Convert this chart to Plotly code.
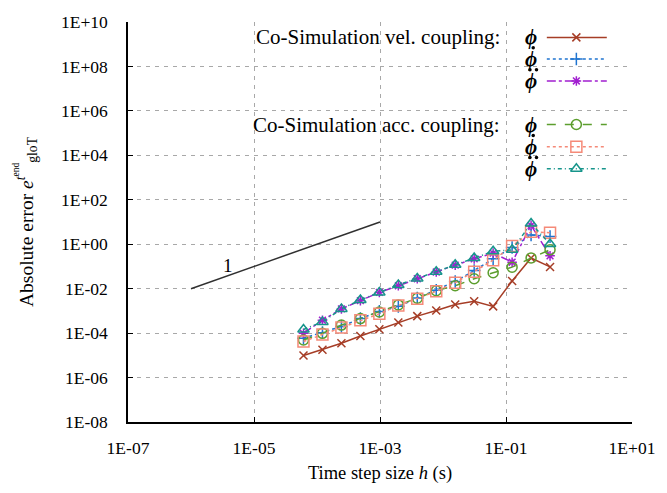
import plotly.graph_objects as go

# ---- data ----
h = [6.1035e-05, 1.2207e-04, 2.4414e-04, 4.8828e-04, 9.7656e-04, 1.9531e-03,
     3.9063e-03, 7.8125e-03, 1.5625e-02, 3.125e-02, 6.25e-02, 0.125, 0.25, 0.5]

vel_phi = [9.8e-6, 1.8e-5, 3.5e-5, 7.4e-5, 1.5e-4, 3.0e-4, 5.8e-4, 1.05e-3,
           1.95e-3, 2.7e-3, 1.6e-3, 2.2e-2, 0.24, 9.5e-2]
vel_dphi = [5.9e-5, 1.05e-4, 2.0e-4, 4.5e-4, 9.5e-4, 1.6e-3, 3.8e-3, 8.5e-3,
            2.1e-2, 6.6e-2, 0.22, 0.71, 2.6, 2.2]
vel_ddphi = [9.8e-5, 3.8e-4, 1.23e-3, 2.9e-3, 6.8e-3, 1.35e-2, 2.8e-2, 5.6e-2,
             0.115, 0.22, 0.40, 0.155, 7.1, 0.30]
acc_phi = [4.9e-5, 9.8e-5, 2.3e-4, 4.5e-4, 8.9e-4, 1.86e-3, 3.7e-3, 8.1e-3,
           1.35e-2, 2.8e-2, 5.2e-2, 9.3e-2, 0.24, 0.56]
acc_dphi = [4.2e-5, 8.7e-5, 1.8e-4, 3.8e-4, 7.4e-4, 1.74e-3, 3.5e-3, 7.6e-3,
            1.86e-2, 5.8e-2, 0.19, 0.83, 3.6, 3.3]
acc_ddphi = [1.45e-4, 3.2e-4, 1.23e-3, 3.1e-3, 6.8e-3, 1.48e-2, 2.9e-2, 5.8e-2,
             0.12, 0.24, 0.48, 0.56, 8.5, 1.02]

slope_x = [1e-6, 1e-3]
slope_y = [1e-2, 1e1]

x_tickvals = [1e-7, 1e-5, 1e-3, 1e-1, 1e1]
x_ticktext = ["1E-07", "1E-05", "1E-03", "1E-01", "1E+01"]
y_tickvals = [1e-8, 1e-6, 1e-4, 1e-2, 1e0, 1e2, 1e4, 1e6, 1e8, 1e10]
y_ticktext = ["1E-08", "1E-06", "1E-04", "1E-02", "1E+00", "1E+02",
              "1E+04", "1E+06", "1E+08", "1E+10"]

FONT = "Liberation Serif"
PHI = "<b><i>\u03d5</i></b>"

# (values, colour, dash, symbol, size, number of dots over phi)
series = [
    (vel_phi, "#a63d26", "solid", "x-thin-open", 8, 0),
    (vel_dphi, "#1f74d0", "dot", "cross-thin-open", 9, 1),
    (vel_ddphi, "#a11fd0", "dashdot", "asterisk-open", 8, 2),
    (acc_phi, "#5c9e2e", "dash", "circle-open", 10, 0),
    (acc_dphi, "#f58a78", "dot", "square-open", 11, 1),
    (acc_ddphi, "#17958b", "4px,3px,1px,3px", "triangle-up-open", 10, 2),
]

fig = go.Figure()

fig.add_trace(go.Scatter(x=slope_x, y=slope_y, mode="lines",
                         line=dict(color="#303030", width=1.5),
                         showlegend=False, hoverinfo="skip"))

for ys, col, dash, sym, sz, _ in series:
    fig.add_trace(go.Scatter(
        x=h, y=ys, mode="lines+markers",
        line=dict(color=col, width=1.5, dash=dash),
        marker=dict(symbol=sym, size=sz, color=col, line=dict(color=col, width=1.5)),
        showlegend=False))

# ---- manual legend (overlay axes in 0..1) ----
row_y = [0.9615, 0.9074, 0.8526, 0.7437, 0.6880, 0.6332]
x0, xm, x1 = 0.831, 0.8896, 0.950
phi_x = 0.800
dot_dy = 0.028
dot_dx = 0.0065
for (ys, col, dash, sym, sz, ndots), ry in zip(series, row_y):
    fig.add_trace(go.Scatter(x=[x0, x1], y=[ry, ry], mode="lines",
                             line=dict(color=col, width=1.5, dash=dash),
                             xaxis="x2", yaxis="y2", showlegend=False, hoverinfo="skip"))
    fig.add_trace(go.Scatter(x=[xm], y=[ry], mode="markers",
                             marker=dict(symbol=sym, size=sz, color=col,
                                         line=dict(color=col, width=1.5)),
                             xaxis="x2", yaxis="y2", showlegend=False, hoverinfo="skip"))
    fig.add_annotation(x=phi_x, y=ry, xref="paper", yref="paper", text=PHI,
                       showarrow=False, font=dict(family=FONT, size=21, color="black"),
                       xanchor="center", yanchor="middle")
    if ndots == 1:
        dxs = [phi_x + 0.004]
    elif ndots == 2:
        dxs = [phi_x + 0.004 - dot_dx, phi_x + 0.004 + dot_dx]
    else:
        dxs = []
    if dxs:
        fig.add_trace(go.Scatter(x=dxs, y=[ry + dot_dy] * len(dxs), mode="markers",
                                 marker=dict(symbol="circle", size=3.5, color="black"),
                                 xaxis="x2", yaxis="y2", showlegend=False, hoverinfo="skip"))

fig.add_annotation(x=0.742, y=row_y[0], xref="paper", yref="paper",
                   text="Co-Simulation vel. coupling:", showarrow=False,
                   font=dict(family=FONT, size=21, color="black"),
                   xanchor="right", yanchor="middle")
fig.add_annotation(x=0.742, y=row_y[3], xref="paper", yref="paper",
                   text="Co-Simulation acc. coupling:", showarrow=False,
                   font=dict(family=FONT, size=21, color="black"),
                   xanchor="right", yanchor="middle")

fig.add_annotation(x=-5.42, y=-0.97, xref="x", yref="y", text="1", showarrow=False,
                   font=dict(family=FONT, size=19, color="black"))

axis_common = dict(
    showline=True, linecolor="black", linewidth=1.5, mirror=False,
    showgrid=True, gridcolor="#a8a8a8", gridwidth=1.2, griddash="4px,5px",
    ticks="inside", ticklen=5, tickcolor="black", tickwidth=1,
    zeroline=False, tickfont=dict(family=FONT, size=17.5, color="black"),
)

fig.update_layout(
    width=667, height=493,
    margin=dict(l=128, r=29, t=15, b=71),
    paper_bgcolor="white", plot_bgcolor="white",
    font=dict(family=FONT, color="black"),
    xaxis=dict(type="log", range=[-7, 1], tickvals=x_tickvals, ticktext=x_ticktext,
               title=dict(text="Time step size <i>h</i> (s)",
                          font=dict(family=FONT, size=18.5), standoff=9),
               ticklabelstandoff=9, **axis_common),
    yaxis=dict(type="log", range=[-8, 10], tickvals=y_tickvals, ticktext=y_ticktext,
               title=dict(text="Absolute error <i>e</i><sup><i>t</i><sup>end</sup></sup><sub>gloT</sub>",
                          font=dict(family=FONT, size=19.5), standoff=22),
               ticklabelstandoff=15, **axis_common),
    xaxis2=dict(overlaying="x", range=[0, 1], visible=False),
    yaxis2=dict(overlaying="y", range=[0, 1], visible=False),
)

fig.write_html("out.html")
